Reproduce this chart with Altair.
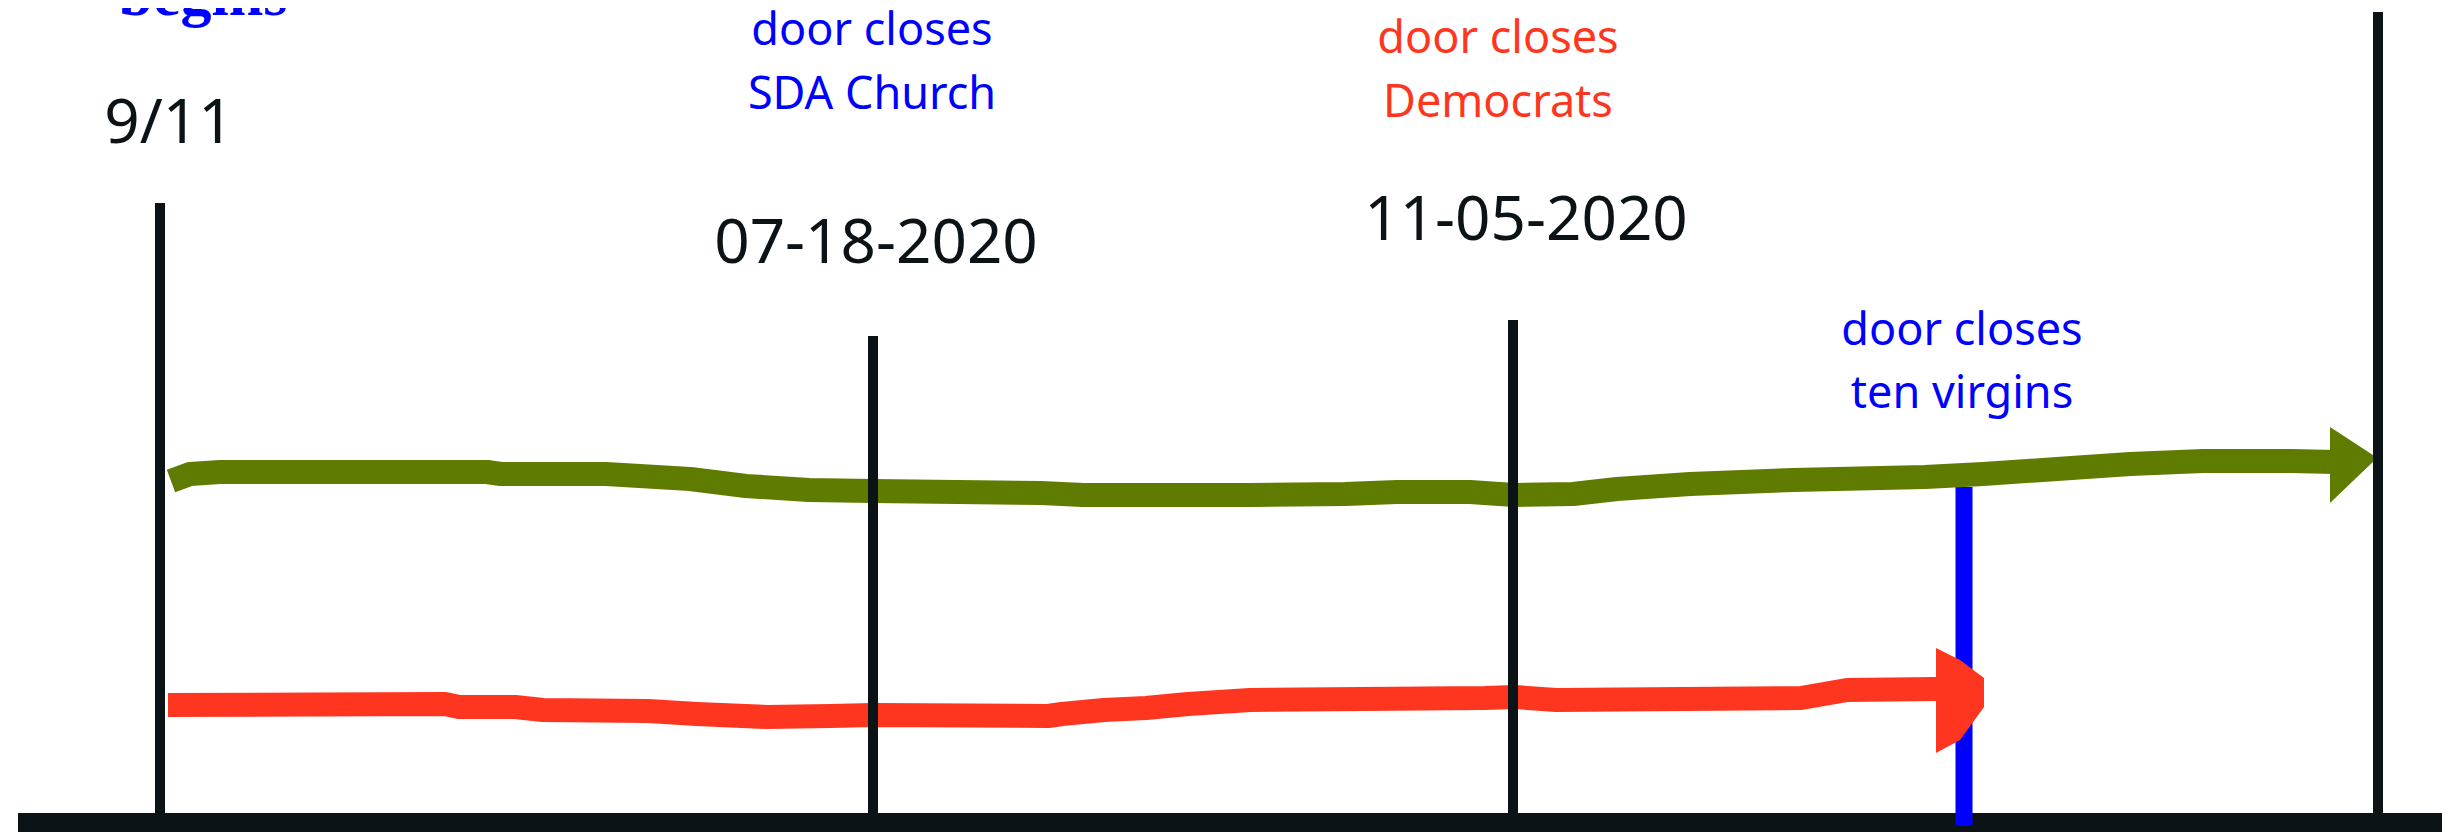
import altair as alt
import pandas as pd

# ---- data (positions in picture units) ----
green_x = [171, 190, 220, 487, 501, 606, 690, 746, 809, 873, 957, 1041, 1083, 1250, 1345, 1397, 1470,
           1514, 1573, 1617, 1690, 1793, 1925, 1983, 2057, 2130, 2203, 2291, 2335]
green_y = [481, 474, 472, 472, 474, 474, 479, 486, 490, 491, 492, 493, 495, 495, 494, 492, 492,
           495, 494, 489, 484, 480, 477, 474, 469, 464, 461, 461, 462]
green_head_x = [2330, 2376]
green_head_top = [427, 457]
green_head_bot = [503, 459]

red_x = [168, 445, 459, 515, 543, 648, 697, 767, 830, 873, 1048, 1062, 1104, 1146, 1188, 1250,
         1485, 1515, 1556, 1801, 1847, 1934, 1945]
red_y = [705, 704, 707, 707, 710, 711, 714, 717, 716, 715, 716, 714, 710, 708, 704, 700,
         698, 697, 700, 698, 690, 689, 689]
red_head_x = [1936, 1960, 1984]
red_head_top = [648, 660, 678]
red_head_bot = [753, 740, 707]

marker_x = [160, 873, 1513, 2378]
marker_top = [203, 336, 320, 12]
axis_bottom = 814

blue_x = [1964]
blue_top = [487]
blue_bot = [826]

base_x0, base_x1, base_y0, base_y1 = 18, 2450, 813, 832

date_labels = ["9/11", "07-18-2020", "11-05-2020"]
date_x = [169, 876, 1526]
date_y = [143, 263, 240]

note_text = ["door closes", "SDA Church", "door closes", "Democrats", "door closes", "ten virgins"]
note_x = [872, 872, 1498, 1498, 1962, 1962]
note_y = [45, 109, 53, 117, 345, 408]
note_color = ["#0000fe", "#0000fe", "#fe3620", "#fe3620", "#0000fe", "#0000fe"]

title_text = ["begins"]
title_x = [203]
title_y = [15]

BLACK = "#0c1317"
GREEN = "#5f7b00"
RED = "#fe3620"
BLUE = "#0000fe"

W, H = 2434, 824
xs = alt.Scale(domain=[8, 8 + W], nice=False, zero=False)
ys = alt.Scale(domain=[8, 8 + H], nice=False, zero=False, reverse=True)

def X(f):
    return alt.X(f, type="quantitative", scale=xs, axis=None)

def Y(f):
    return alt.Y(f, type="quantitative", scale=ys, axis=None)

base_df = pd.DataFrame({"x": [base_x0], "x2": [base_x1], "y": [base_y0], "y2": [base_y1]})
base = alt.Chart(base_df).mark_rect(color=BLACK).encode(
    x=X("x"), x2="x2", y=Y("y"), y2="y2")

markers_df = pd.DataFrame({"x": marker_x, "top": marker_top, "bot": [axis_bottom] * len(marker_x)})
markers = alt.Chart(markers_df).mark_rule(color=BLACK, strokeWidth=10).encode(
    x=X("x"), y=Y("top"), y2="bot")

blue_df = pd.DataFrame({"x": blue_x, "top": blue_top, "bot": blue_bot})
blue = alt.Chart(blue_df).mark_rule(color=BLUE, strokeWidth=17).encode(
    x=X("x"), y=Y("top"), y2="bot")

green_df = pd.DataFrame({"x": green_x, "y": green_y, "i": range(len(green_x))})
green = alt.Chart(green_df).mark_line(color=GREEN, strokeWidth=24, strokeCap="butt",
                                      strokeJoin="round").encode(
    x=X("x"), y=Y("y"), order="i:Q")
gh_df = pd.DataFrame({"x": green_head_x, "t": green_head_top, "b": green_head_bot})
green_head = alt.Chart(gh_df).mark_area(color=GREEN, opacity=1).encode(
    x=X("x"), y=Y("t"), y2="b")

red_df = pd.DataFrame({"x": red_x, "y": red_y, "i": range(len(red_x))})
red = alt.Chart(red_df).mark_line(color=RED, strokeWidth=24, strokeCap="butt",
                                  strokeJoin="round").encode(
    x=X("x"), y=Y("y"), order="i:Q")
rh_df = pd.DataFrame({"x": red_head_x, "t": red_head_top, "b": red_head_bot})
red_head = alt.Chart(rh_df).mark_area(color=RED, opacity=1).encode(
    x=X("x"), y=Y("t"), y2="b")

dates_df = pd.DataFrame({"t": date_labels, "x": date_x, "y": date_y})
dates = alt.Chart(dates_df).mark_text(font="Noto Sans", fontSize=62, color=BLACK,
                                      align="center", baseline="alphabetic").encode(
    x=X("x"), y=Y("y"), text="t:N")

notes_df = pd.DataFrame({"t": note_text, "x": note_x, "y": note_y, "c": note_color})
notes = alt.Chart(notes_df).mark_text(font="Noto Sans", fontSize=45,
                                      align="center", baseline="alphabetic").encode(
    x=X("x"), y=Y("y"), text="t:N", color=alt.Color("c:N", scale=None))

title_df = pd.DataFrame({"t": title_text, "x": title_x, "y": title_y})
title = alt.Chart(title_df).mark_text(font="Liberation Serif", fontSize=62, fontWeight="bold",
                                      color=BLUE, align="center", baseline="alphabetic").encode(
    x=X("x"), y=Y("y"), text="t:N")

chart = alt.layer(base, blue, green, green_head, red, red_head, markers, dates, notes, title).properties(
    width=W, height=H, padding=0, autosize=alt.AutoSizeParams(type="none"), background="white"
).configure_view(strokeWidth=0)

chart.save("out.html", embed_options={"renderer": "svg", "actions": False})
